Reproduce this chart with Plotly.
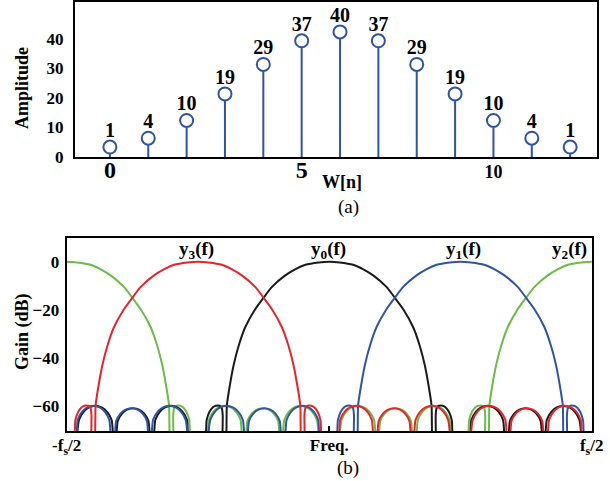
import plotly.graph_objects as go

# ---------------- data: panel (a) ----------------
n_idx = list(range(13))
w_vals = [1, 4, 10, 19, 29, 37, 40, 37, 29, 19, 10, 4, 1]
a_xtick_vals = [0, 5, 10]
a_xtick_text = ["<span style='font-size:24px'>0</span>",
                "<span style='font-size:24px'>5</span>", "10"]
a_ytick_vals = [0, 10, 20, 30, 40]

# ---------------- data: panel (b) ----------------
# prototype channel response read from y0(f): offset from channel centre (fs = 1) and gain (dB)
proto_offset = [0.000, 0.020, 0.0455, 0.065, 0.085, 0.109, 0.126, 0.141, 0.160, 0.172, 0.182, 0.190, 0.195, 0.1975,
                0.2020, 0.2028, 0.2045, 0.209, 0.216, 0.222, 0.228, 0.2335, 0.2375,
                0.2665, 0.2708, 0.2792, 0.2893, 0.301, 0.3127, 0.3228, 0.3312, 0.3355,
                0.340, 0.3442, 0.3524, 0.3621, 0.3735, 0.3849, 0.3946, 0.4028, 0.407,
                0.410, 0.4144, 0.4231, 0.4334, 0.4455, 0.4576, 0.4679, 0.4766, 0.481]
proto_gain = [0.0, -0.3, -1.3, -3.2, -5.9, -10.5, -15.3, -19.8, -27.3, -34.7, -43.0, -52.5, -60.0, -75.0,
              -75.0, -64.0, -61.0, -60.0, -60.0, -60.7, -62.5, -66.0, -75.0,
              -75.0, -65.9, -62.5, -60.7, -60.0, -60.7, -62.5, -65.9, -75.0,
              -75.0, -66.4, -63.3, -61.6, -61.0, -61.6, -63.3, -66.4, -75.0,
              -75.0, -65.9, -62.5, -60.7, -60.0, -60.7, -62.5, -65.9, -75.0]
channel_labels = ["y<sub>2</sub>(f)", "y<sub>0</sub>(f)", "y<sub>1</sub>(f)", "y<sub>3</sub>(f)"]
channel_centers = [0.5, 0.0, 0.25, -0.25]
channel_colors = ["#6abd45", "#1a1a1a", "#2e55a5", "#e8242a"]
label_pos_f = [0.457, -0.002, 0.255, -0.252]
label_pos_db = [4.9, 4.9, 4.9, 4.9]
b_ytick_vals = [0, -20, -40, -60]
b_xtick_vals = [-0.5, 0.0, 0.5]
b_xtick_text = ["-f<sub>s</sub>/2", "Freq.", "f<sub>s</sub>/2"]

FONT = "Liberation Serif, Times New Roman, serif"
W, H = 610, 481
STEM_BLUE = "#2e55a5"

# geometry (px)
a_left, a_right, a_top, a_bot = 75, 597, 2.3, 157
b_left, b_right, b_top, b_bot = 66.7, 591.7, 238.3, 431
a_yrange = [0, 52.4]
b_yrange = [-70.5, 9.75]
units_per_px = (a_yrange[1] - a_yrange[0]) / (a_bot - a_top)
marker_lift = 7.0 * units_per_px      # marker sits on top of its stem
text_lift = 12.0 * units_per_px       # value label sits above the marker

fig = go.Figure()

# stems
sx, sy = [], []
for n, v in zip(n_idx, w_vals):
    sx += [n, n, None]
    sy += [0, v, None]
fig.add_trace(go.Scatter(x=sx, y=sy, mode="lines", line=dict(color=STEM_BLUE, width=2),
                         xaxis="x", yaxis="y", showlegend=False, hoverinfo="skip"))
# markers (overlay axis lifted by the marker radius)
fig.add_trace(go.Scatter(x=n_idx, y=w_vals, mode="markers",
                         marker=dict(symbol="circle", size=13, color="white",
                                     line=dict(color=STEM_BLUE, width=2)),
                         xaxis="x", yaxis="y2", showlegend=False, cliponaxis=False))
# value labels
fig.add_trace(go.Scatter(x=n_idx, y=w_vals, mode="text",
                         text=[str(v) for v in w_vals], textposition="top center",
                         textfont=dict(family=FONT, size=20, color="black", weight="bold"),
                         xaxis="x", yaxis="y5", showlegend=False, cliponaxis=False))

# filter bank responses
full_off = [-o for o in reversed(proto_offset[1:])] + proto_offset
full_gain = list(reversed(proto_gain[1:])) + proto_gain
for c, col in zip(channel_centers, channel_colors):
    xs, ys = [], []
    for k in (-1, 0, 1):
        xs += [c + k + o for o in full_off] + [None]
        ys += full_gain + [None]
    fig.add_trace(go.Scatter(x=xs, y=ys, mode="lines", line=dict(color=col, width=2, shape="spline", smoothing=0.6),
                             xaxis="x2", yaxis="y3", showlegend=False, hoverinfo="skip"))

def px2fx(p):
    return p / W

def px2fy(p):
    return 1 - p / H

axis_common = dict(showline=True, linecolor="black", linewidth=2, mirror=True,
                   showgrid=False, zeroline=False, automargin=False)

fig.update_layout(
    width=W, height=H, margin=dict(l=0, r=0, t=0, b=0, autoexpand=False),
    paper_bgcolor="white", plot_bgcolor="white",
    font=dict(family=FONT, color="black"),
    xaxis=dict(domain=[px2fx(a_left), px2fx(a_right)], range=[-0.91, 12.7], anchor="y",
               tickvals=a_xtick_vals, ticktext=a_xtick_text, ticks="",
               tickfont=dict(size=18, weight="bold"), ticklabelstandoff=-3, **axis_common),
    yaxis=dict(domain=[px2fy(a_bot), px2fy(a_top)], range=a_yrange, anchor="x",
               tickvals=a_ytick_vals, ticks="", tickfont=dict(size=17, weight="bold"),
               ticklabelstandoff=6, **axis_common),
    yaxis2=dict(overlaying="y", anchor="x", range=[a_yrange[0] - marker_lift, a_yrange[1] - marker_lift],
                visible=False, automargin=False),
    yaxis5=dict(overlaying="y", anchor="x", range=[a_yrange[0] - text_lift, a_yrange[1] - text_lift],
                visible=False, automargin=False),
    xaxis2=dict(domain=[px2fx(b_left), px2fx(b_right)], range=[-0.5, 0.5], anchor="y3",
                tickvals=b_xtick_vals, ticktext=b_xtick_text, ticks="inside", ticklen=5, tickwidth=1.5,
                tickcolor="black", tickfont=dict(size=17, weight="bold"), ticklabelstandoff=-2, **axis_common),
    yaxis3=dict(domain=[px2fy(b_bot), px2fy(b_top)], range=b_yrange, anchor="x2",
                tickvals=b_ytick_vals, ticks="", tickfont=dict(size=17, weight="bold"),
                ticklabelstandoff=2, **axis_common),
    yaxis4=dict(overlaying="y3", anchor="x2", side="right", range=b_yrange, tickvals=b_ytick_vals,
                ticks="inside", ticklen=5, tickwidth=1.5, tickcolor="black", showticklabels=False,
                showgrid=False, zeroline=False, showline=False, automargin=False),
)

ann = []
def add_text(xp, yp, text, size, bold=True, angle=0):
    ann.append(dict(x=px2fx(xp), y=px2fy(yp), xref="paper", yref="paper", text=text, textangle=angle,
                    xanchor="center", yanchor="middle", showarrow=False,
                    font=dict(size=size, weight="bold" if bold else "normal")))

add_text(22, 88, "Amplitude", 18, angle=-90)
add_text(342, 182, "W[n]", 18)
add_text(348, 207, "(a)", 19, bold=False)
add_text(22, 332, "Gain (dB)", 18, angle=-90)
add_text(348, 468, "(b)", 19, bold=False)
for lab, lf, ld in zip(channel_labels, label_pos_f, label_pos_db):
    ann.append(dict(x=lf, y=ld, xref="x2", yref="y3", text=lab, showarrow=False,
                    xanchor="center", yanchor="middle", font=dict(size=19, weight="bold")))
fig.update_layout(annotations=ann)

fig.write_html("out.html", config={"displayModeBar": False},
               post_script="document.body.style.margin='0px';")
